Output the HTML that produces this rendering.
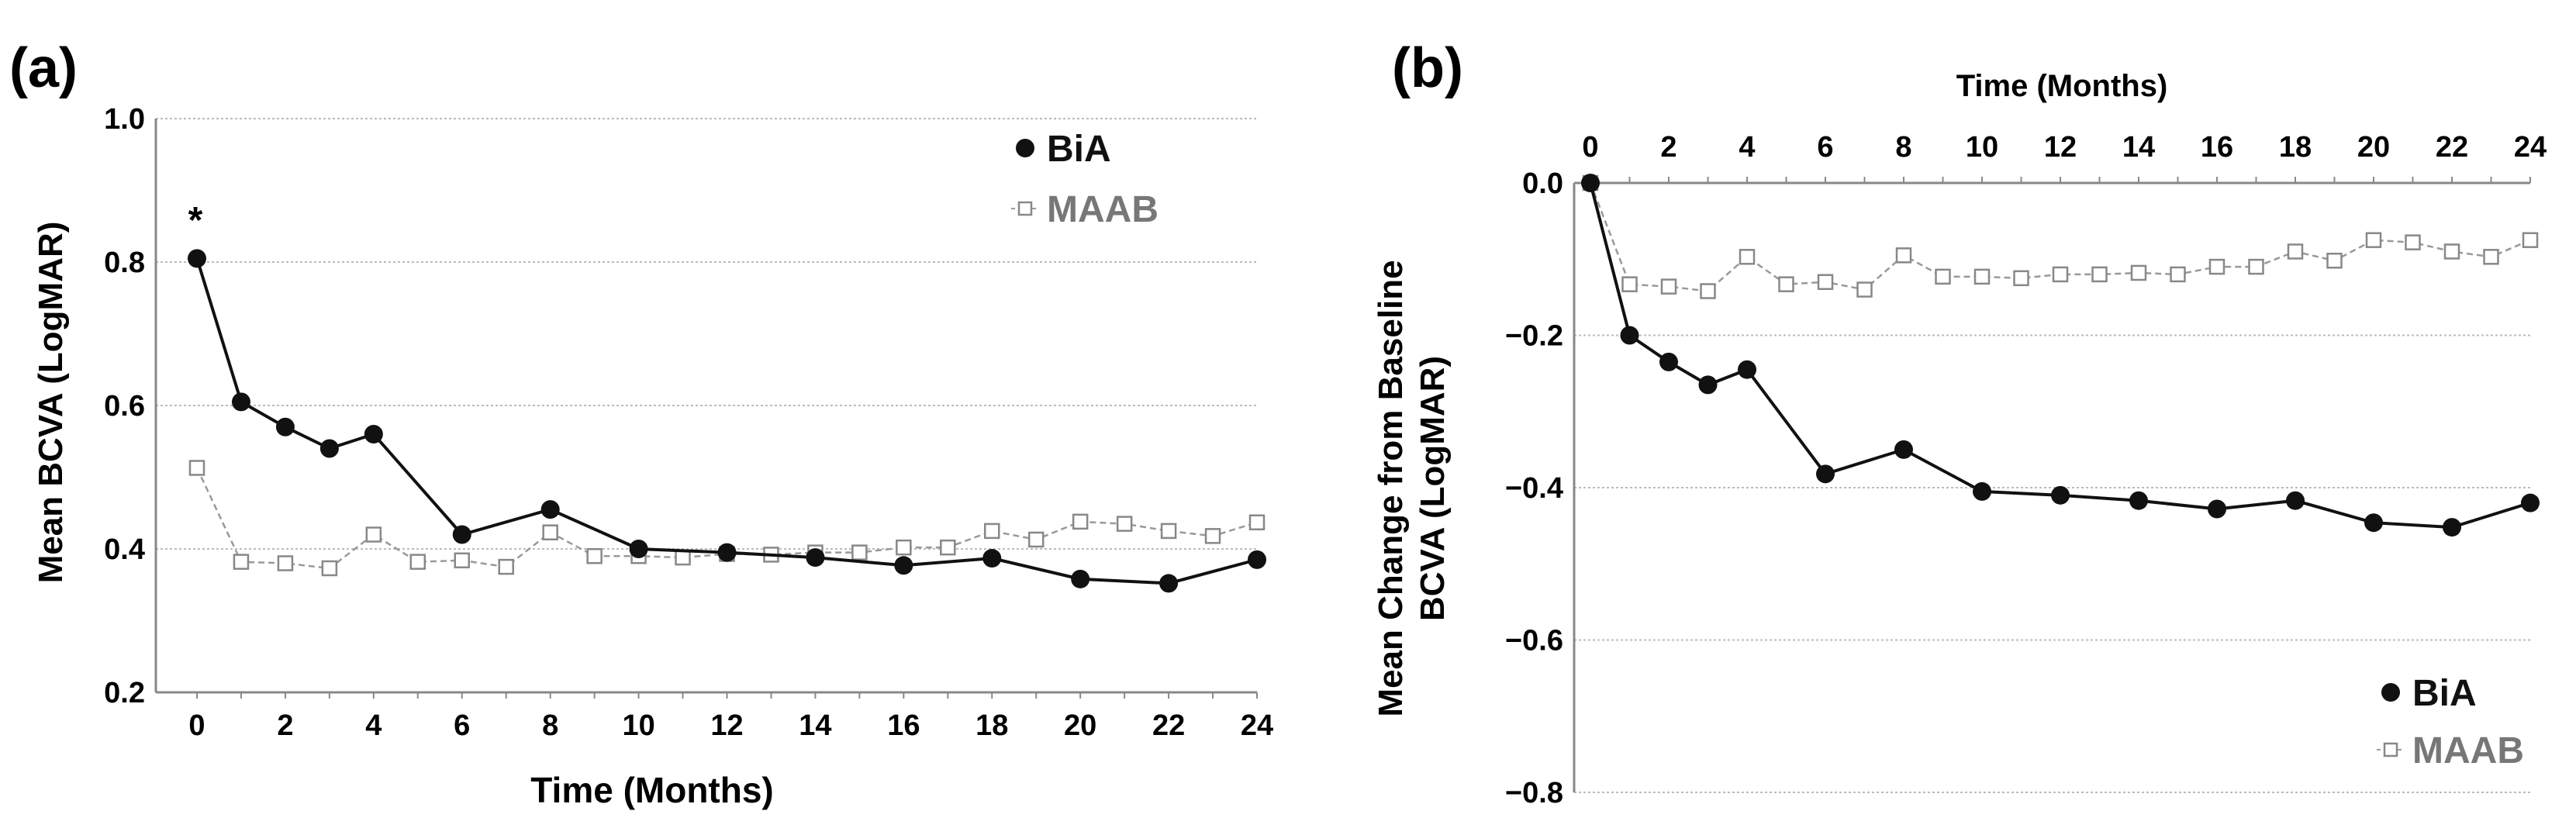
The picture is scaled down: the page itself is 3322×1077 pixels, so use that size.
<!DOCTYPE html>
<html><head><meta charset="utf-8"><style>
html,body{margin:0;padding:0;background:#fff;overflow:hidden;}
svg{display:block;font-family:"Liberation Sans",sans-serif;}
</style></head><body>
<svg id="chart" width="3322" height="1077" viewBox="0 0 3322 1077">
<text x="12" y="112" font-size="72" font-weight="bold">(a)</text>
<text x="1795" y="112" font-size="72" font-weight="bold">(b)</text>
<g id="ga"></g>
<g id="gb"></g>
</svg>
<script>
const months = [0,1,2,3,4,5,6,7,8,9,10,11,12,13,14,15,16,17,18,19,20,21,22,23,24];
const xTicks = [0,2,4,6,8,10,12,14,16,18,20,22,24];
const biaMonths = [0,1,2,3,4,6,8,10,12,14,16,18,20,22,24];
const biaA = [0.805,0.605,0.57,0.54,0.56,0.42,0.455,0.40,0.395,0.388,0.377,0.387,0.358,0.352,0.385];
const maabA = [0.513,0.382,0.38,0.373,0.42,0.382,0.384,0.375,0.423,0.39,0.39,0.388,0.393,0.392,0.395,0.395,0.402,0.402,0.425,0.413,0.438,0.435,0.425,0.418,0.437];
const yTicksA = [0.2,0.4,0.6,0.8,1.0];
const biaB = [0,-0.2,-0.235,-0.265,-0.245,-0.382,-0.35,-0.405,-0.41,-0.417,-0.428,-0.417,-0.446,-0.452,-0.42];
const maabB = [0,-0.133,-0.136,-0.142,-0.097,-0.133,-0.13,-0.14,-0.095,-0.123,-0.123,-0.125,-0.12,-0.12,-0.118,-0.12,-0.11,-0.11,-0.09,-0.102,-0.075,-0.078,-0.09,-0.097,-0.075];
const yTicksB = [0,-0.2,-0.4,-0.6,-0.8];

const NS='http://www.w3.org/2000/svg';
function mk(parent,tag,attrs,text){const e=document.createElementNS(NS,tag);for(const k in attrs)e.setAttribute(k,attrs[k]);if(text!==undefined)e.textContent=text;parent.appendChild(e);return e;}

function panel(g,cfg){
  const xs=m=>cfg.x0+(cfg.x1-cfg.x0)*m/24;
  const ys=v=>cfg.yTop+(cfg.yBot-cfg.yTop)*(cfg.vTop-v)/(cfg.vTop-cfg.vBot);
  cfg.yTicks.forEach(v=>{
    const y=ys(v);
    if(v!==cfg.axisVal){
      const l=mk(g,'line',{x1:cfg.ax,x2:cfg.x1,y1:y,y2:y,stroke:'#bbb','stroke-width':2,'stroke-dasharray':'3,3'});
      
      
    }
    const t=mk(g,'text',{x:cfg.ax-14,y:y+13,'font-size':38,'font-weight':'bold','text-anchor':'end'},v===0?'0.0':v.toFixed(1).replace('-','\u2212'));
    
    
  });
  const ay=mk(g,'line',{x1:cfg.ax,x2:cfg.ax,y1:cfg.yTop,y2:cfg.yBot,stroke:'#888','stroke-width':3});
  
  
  const axY=ys(cfg.axisVal);
  const ax=mk(g,'line',{x1:cfg.ax,x2:cfg.x1,y1:axY,y2:axY,stroke:'#888','stroke-width':3});
  
  
  months.forEach(m=>{
    const tk=mk(g,'line',{x1:xs(m),x2:xs(m),y1:axY,y2:axY+(cfg.topAxis?-8:8),stroke:'#888','stroke-width':2});
    
    
  });
  xTicks.forEach(m=>{
    const t=mk(g,'text',{x:xs(m),y:cfg.xLabY,'font-size':38,'font-weight':'bold','text-anchor':'middle'},String(m));
    
    
  });
  const mp=mk(g,'polyline',{points:months.map((m,i)=>xs(m)+','+ys(cfg.maab[i])).join(' '),fill:'none',stroke:'#999','stroke-width':2.5,'stroke-dasharray':'8,5'});
  
  
  months.forEach((m,i)=>{
    const r=mk(g,'rect',{x:xs(m)-9,y:ys(cfg.maab[i])-9,width:18,height:18,fill:'#fff',stroke:'#888','stroke-width':2.5});
    
    
  });
  const bp=mk(g,'polyline',{points:biaMonths.map((m,i)=>xs(m)+','+ys(cfg.bia[i])).join(' '),fill:'none',stroke:'#111','stroke-width':4});
  
  
  biaMonths.forEach((m,i)=>{
    const c=mk(g,'circle',{cx:xs(m),cy:ys(cfg.bia[i]),r:12,fill:'#111'});
    
    
  });
  const lc=mk(g,'circle',{cx:cfg.legX,cy:cfg.legY,r:12,fill:'#111'});
  
  
  const lt=mk(g,'text',{x:cfg.legX+28,y:cfg.legY+17,'font-size':48,'font-weight':'bold',fill:'#111'},'BiA');
  
  
  const ll=mk(g,'line',{x1:cfg.legX-18,x2:cfg.legX+18,y1:cfg.legY+cfg.legGap,y2:cfg.legY+cfg.legGap,stroke:'#999','stroke-width':2,'stroke-dasharray':'5,4'});
  
  
  const lr=mk(g,'rect',{x:cfg.legX-8,y:cfg.legY+cfg.legGap-8,width:16,height:16,fill:'#fff',stroke:'#888','stroke-width':2.5});
  
  
  const lt2=mk(g,'text',{x:cfg.legX+28,y:cfg.legY+cfg.legGap+17,'font-size':48,'font-weight':'bold',fill:'#777'},'MAAB');
  
  
}

const ga=document.getElementById('ga');
panel(ga,{x0:254,x1:1621,ax:201,yTop:153,yBot:893,vTop:1.0,vBot:0.2,yTicks:yTicksA,axisVal:0.2,xLabY:948,topAxis:false,bia:biaA,maab:maabA,legX:1322,legY:191,legGap:78});
const ast=mk(ga,'text',{x:252,y:300,'font-size':48,'font-weight':'bold','text-anchor':'middle'},'*');


const xa=mk(ga,'text',{x:841,y:1035,'font-size':46,'font-weight':'bold','text-anchor':'middle'},'Time  (Months)');


const ya=mk(ga,'text',{x:0,y:0,'font-size':44,'font-weight':'bold','text-anchor':'middle',transform:'translate(80,519) rotate(-90)'},'Mean BCVA (LogMAR)');



const gb=document.getElementById('gb');
panel(gb,{x0:2051,x1:3263,ax:2030,yTop:236,yBot:1022,vTop:0,vBot:-0.8,yTicks:yTicksB,axisVal:0,xLabY:202,topAxis:true,bia:biaB,maab:maabB,legX:3083,legY:893,legGap:74});
const xb=mk(gb,'text',{x:2659,y:124,'font-size':40,'font-weight':'bold','text-anchor':'middle'},'Time  (Months)');


const yb1=mk(gb,'text',{x:0,y:0,'font-size':44,'font-weight':'bold','text-anchor':'middle',transform:'translate(1808,630) rotate(-90)'},'Mean Change from Baseline');


const yb2=mk(gb,'text',{x:0,y:0,'font-size':44,'font-weight':'bold','text-anchor':'middle',transform:'translate(1862,630) rotate(-90)'},'BCVA (LogMAR)');


</script>
</body></html>
